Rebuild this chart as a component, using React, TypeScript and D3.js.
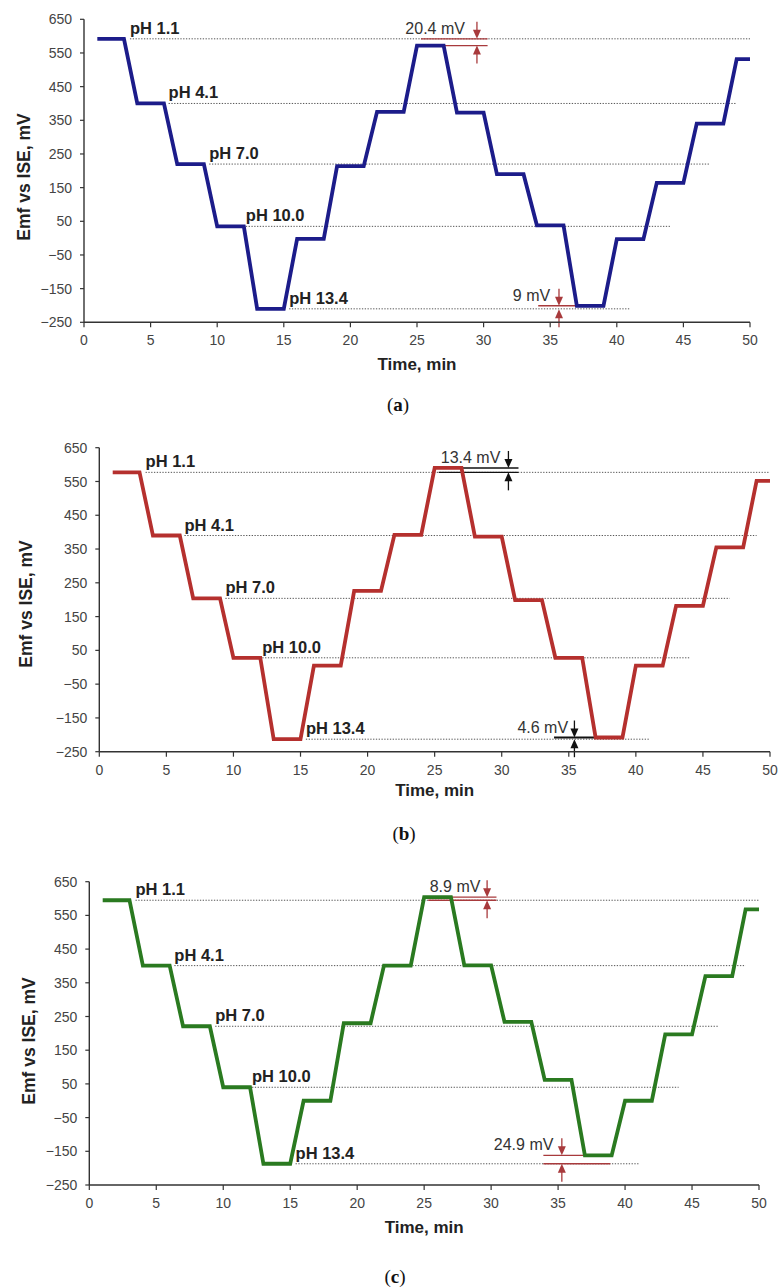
import React from "react";
import * as d3 from "d3";

// ---- Data ----
const plateauStart = [1, 4, 7, 10, 13, 16, 19, 22, 25, 28, 31, 34, 37, 40, 43, 46, 49];
const plateauEnd = [3, 6, 9, 12, 15, 18, 21, 24, 27, 30, 33, 36, 39, 42, 45, 48, 50];

const levelsA = [592, 400, 220, 35, -210, -2, 214, 375, 572, 373, 190, 38, -201, -3, 164, 340, 532];
const levelsB = [577, 390, 204, 28, -213, 5, 226, 392, 590, 387, 199, 28, -208, 5, 182, 355, 552];
const levelsC = [595, 401, 221, 40, -187, 0, 230, 401, 604, 402, 234, 62, -162, 0, 197, 370, 568];

const phLabels = ["pH 1.1", "pH 4.1", "pH 7.0", "pH 10.0", "pH 13.4"];
const refA = [592, 400, 220, 35, -210];
const refB = [577, 390, 204, 28, -213];
const refC = [595, 401, 221, 40, -187];
const refStartT = [3.45, 6.35, 9.4, 12.15, 15.4];
const refEndT = [50, 49, 47, 44, 41];

const xTicks = [0, 5, 10, 15, 20, 25, 30, 35, 40, 45, 50];
const yTicks = [-250, -150, -50, 50, 150, 250, 350, 450, 550, 650];

const annotA = [
  { text: "20.4 mV", upper: 592, lower: 572, textT: 28.6, arrowT: 29.5, upperLine: [25.3, 30.3], lowerLine: [25, 30.3] },
  { text: "9 mV", upper: -201, lower: -211, textT: 35, arrowT: 35.66, upperLine: [34.1, 38.9], lowerLine: null },
];
const annotB = [
  { text: "13.4 mV", upper: 590, lower: 577, textT: 29.9, arrowT: 30.5, upperLine: [27, 31.25], lowerLine: [25.3, 31.25] },
  { text: "4.6 mV", upper: -208, lower: -213, textT: 34.95, arrowT: 35.42, upperLine: [33.9, 39], lowerLine: null },
];
const annotC = [
  { text: "8.9 mV", upper: 604, lower: 595, textT: 29.2, arrowT: 29.7, upperLine: [25.3, 30.4], lowerLine: [25.3, 30.4] },
  { text: "24.9 mV", upper: -162, lower: -187, textT: 34.65, arrowT: 35.28, upperLine: [33.9, 37], lowerLine: [33.9, 38.9] },
];

type Annot = { text: string; upper: number; lower: number; textT: number; arrowT: number; upperLine: number[]; lowerLine: number[] | null };

type PanelProps = {
  left: number; right: number; top: number; bottom: number;
  levels: number[]; refs: number[]; color: string; annColor: string; annWidth: number[];
  annots: Annot[]; yTitleX: number; yTitleY: number; xTitleOff: number;
  caption: string; capX: number; capY: number;
};

const SANS = "'Liberation Sans', Arial, sans-serif";

function Panel(p: PanelProps) {
  const x = d3.scaleLinear().domain([0, 50]).range([p.left, p.right]);
  const y = d3.scaleLinear().domain([-250, 650]).range([p.bottom, p.top]);
  const pts: [number, number][] = [];
  plateauStart.forEach((s, i) => {
    pts.push([s, p.levels[i]]);
    pts.push([plateauEnd[i], p.levels[i]]);
  });
  const line = d3.line<[number, number]>().x((d) => x(d[0])).y((d) => y(d[1]));
  const cx = (p.left + p.right) / 2;
  return (
    <g>
      {p.refs.map((v, i) => (
        <line key={"r" + i} x1={x(refStartT[i])} x2={x(refEndT[i])} y1={y(v)} y2={y(v)}
          stroke="#555" strokeWidth={1} strokeDasharray="1.3,1.5" />
      ))}
      {p.annots.map((a, i) => (
        <g key={"al" + i}>
          <line x1={x(a.upperLine[0])} x2={x(a.upperLine[1])} y1={y(a.upper)} y2={y(a.upper)}
            stroke={p.annColor} strokeWidth={p.annWidth[i]} />
          {a.lowerLine && (
            <line x1={x(a.lowerLine[0])} x2={x(a.lowerLine[1])} y1={y(a.lower)} y2={y(a.lower)}
              stroke={p.annColor} strokeWidth={p.annWidth[i]} />
          )}
        </g>
      ))}
      <path d={line(pts) || ""} fill="none" stroke={p.color} strokeWidth={3.8} strokeLinejoin="miter" />
      {p.annots.map((a, i) => {
        const yu = y(a.upper);
        const yl = y(a.lower);
        const ax = x(a.arrowT);
        return (
          <g key={"ar" + i}>
            <line x1={ax} x2={ax} y1={yu - 17} y2={yu - 5} stroke={p.annColor} strokeWidth={1.3} />
            <path d={`M${ax - 4},${yu - 9} L${ax + 4},${yu - 9} L${ax},${yu} Z`} fill={p.annColor} />
            <line x1={ax} x2={ax} y1={yl + 5} y2={yl + 18} stroke={p.annColor} strokeWidth={1.3} />
            <path d={`M${ax - 4},${yl + 9} L${ax + 4},${yl + 9} L${ax},${yl} Z`} fill={p.annColor} />
            <text x={x(a.textT)} y={yu - 5} textAnchor="end" fontFamily={SANS} fontSize={16} fill="#333">
              {a.text}
            </text>
          </g>
        );
      })}
      {p.refs.map((v, i) => (
        <text key={"l" + i} x={x(refStartT[i])} y={y(v) - 5} fontFamily={SANS} fontSize={16.5}
          fontWeight="bold" fill="#222">
          {phLabels[i]}
        </text>
      ))}
      <line x1={p.left} x2={p.left} y1={p.top} y2={p.bottom} stroke="#333" strokeWidth={1.4} />
      <line x1={p.left} x2={p.right} y1={p.bottom} y2={p.bottom} stroke="#333" strokeWidth={1.4} />
      {yTicks.map((t) => (
        <g key={"yt" + t}>
          <line x1={p.left - 4} x2={p.left} y1={y(t)} y2={y(t)} stroke="#333" strokeWidth={1.2} />
          <text x={p.left - 12} y={y(t)} dy="0.36em" textAnchor="end" fontFamily={SANS} fontSize={14} fill="#444">
            {t < 0 ? "\u2212" + Math.abs(t) : String(t)}
          </text>
        </g>
      ))}
      {xTicks.map((t) => (
        <g key={"xt" + t}>
          <line x1={x(t)} x2={x(t)} y1={p.bottom} y2={p.bottom + 5} stroke="#333" strokeWidth={1.2} />
          <text x={x(t)} y={p.bottom + 23} textAnchor="middle" fontFamily={SANS} fontSize={14} fill="#444">
            {t}
          </text>
        </g>
      ))}
      <text x={cx} y={p.bottom + p.xTitleOff} textAnchor="middle" fontFamily={SANS} fontSize={17}
        fontWeight="bold" fill="#222">
        Time, min
      </text>
      <text transform={`translate(${p.yTitleX},${p.yTitleY}) rotate(-90)`} textAnchor="middle"
        fontFamily={SANS} fontSize={17.5} fontWeight="bold" fill="#222">
        Emf vs ISE, mV
      </text>
      <text x={p.capX} y={p.capY} textAnchor="middle" fontFamily="'Liberation Serif', 'DejaVu Serif', serif"
        fontSize={19} fill="#111">
        (<tspan fontWeight="bold">{p.caption}</tspan>)
      </text>
    </g>
  );
}

export default function App() {
  return (
    <svg width={779} height={1288} style={{ position: "absolute", left: 0, top: 0, background: "#fff" }}>
      <rect x={0} y={0} width={779} height={1288} fill="#fff" />
      <Panel left={84} right={750} top={19.3} bottom={322.3} levels={levelsA} refs={refA}
        color="#1c1c8a" annColor="#a83a3c" annWidth={[1.3, 1.6]} annots={annotA}
        yTitleX={30} yTitleY={177} xTitleOff={48} caption="a" capX={398} capY={411} />
      <Panel left={99.3} right={770} top={447.7} bottom={751.7} levels={levelsB} refs={refB}
        color="#b5302e" annColor="#111" annWidth={[1.4, 2]} annots={annotB}
        yTitleX={32} yTitleY={604} xTitleOff={44} caption="b" capX={404} capY={840} />
      <Panel left={89.3} right={759} top={881.7} bottom={1185} levels={levelsC} refs={refC}
        color="#2a7a20" annColor="#a83a3c" annWidth={[1.3, 1.3]} annots={annotC}
        yTitleX={35} yTitleY={1041} xTitleOff={48} caption="c" capX={395} capY={1283} />
    </svg>
  );
}
